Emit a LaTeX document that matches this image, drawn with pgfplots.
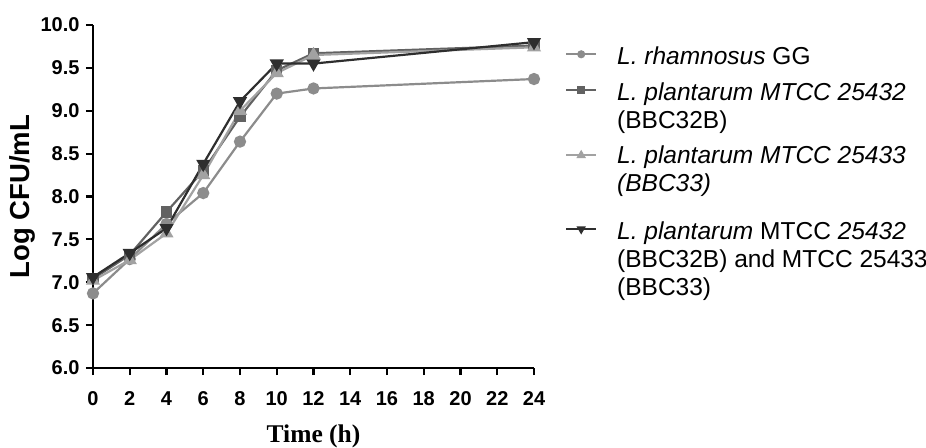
\documentclass[border=0pt]{standalone}
\usepackage{pgfplots}
\pgfplotsset{compat=1.18}
\usepackage{fontspec}
\setmainfont{Liberation Sans}
\newfontfamily\serifbf{Liberation Serif}
\definecolor{cA}{HTML}{8C8C8C}
\definecolor{cB}{HTML}{626262}
\definecolor{cC}{HTML}{A2A2A2}
\definecolor{cD}{HTML}{2E2E2E}
\begin{document}
\begin{tikzpicture}
\path[use as bounding box] (-93pt,-79pt) rectangle (833pt,368pt);
\begin{axis}[
  scale only axis,
  width=441pt, height=343pt,
  xmin=0, xmax=24, ymin=6, ymax=10,
  axis lines=left,
  axis line style={line width=2.6pt, -},
  xtick={0,2,...,24},
  ytick={6,6.5,...,10},
  tick style={line width=2.2pt, black},
  tick align=outside,
  major tick length=7pt,
  /pgf/number format/assume math mode=true,
  yticklabel style={xshift=-3pt, /pgf/number format/.cd, fixed, fixed zerofill, precision=1},
  ticklabel style={font=\bfseries\fontsize{20}{20}\selectfont},
  xticklabel style={yshift=-13pt},
  xlabel={\serifbf\bfseries Time (h)},
  ylabel={\bfseries Log CFU/mL},
  xlabel style={font=\fontsize{25.5}{25.5}\selectfont, yshift=-12pt},
  ylabel style={font=\fontsize{27.5}{27.5}\selectfont, yshift=-2pt},
  clip=false,
  legend style={draw=none, at={(1.0703,0.9363)}, anchor=north west,
    inner sep=0pt,
    font=\fontsize{24.5}{28}\selectfont,
    nodes={inner sep=0pt},
    cells={align=left, anchor=west},
    column sep=20pt,
    row sep=16pt},
  legend cell align=left,
  legend image code/.code={\draw[mark repeat=2,mark phase=2] plot coordinates {(0pt,0pt) (15pt,0pt) (30pt,0pt)};},
  every axis plot/.append style={line width=2.2pt},
]
\addplot[cA, mark=*, mark size=5pt, forget plot] coordinates {(0,6.87) (2,7.27) (4,7.68) (6,8.04) (8,8.64) (10,9.20) (12,9.26) (24,9.37)};
\addplot[cB, mark=square*, mark size=4.5pt, forget plot] coordinates {(0,7.04) (2,7.32) (4,7.82) (6,8.30) (8,8.93) (10,9.47) (12,9.67) (24,9.76)};
\addplot[cC, mark=triangle*, mark size=6pt, forget plot] coordinates {(0,7.02) (2,7.26) (4,7.57) (6,8.25) (8,9.00) (10,9.44) (12,9.65) (24,9.74)};
\addplot[cD, mark=triangle*, mark options={rotate=180}, mark size=6pt, forget plot] coordinates {(0,7.06) (2,7.34) (4,7.63) (6,8.38) (8,9.11) (10,9.55) (12,9.55) (24,9.80)};
\addlegendimage{cA, mark=*, mark size=3pt, line width=2pt, yshift=2.4pt}
\addlegendentry{\itshape L. rhamnosus\upshape\ GG}
\addlegendimage{cB, mark=square*, mark size=3pt, line width=2pt, yshift=16.4pt}
\addlegendentry{\itshape L. plantarum MTCC 25432\\(BBC32B)}
\addlegendimage{cC, mark=triangle*, mark size=3.5pt, line width=2pt, yshift=20.4pt}
\addlegendentry{\itshape L. plantarum MTCC 25433\\\itshape (BBC33)\\[-15pt]\mbox{}}
\addlegendimage{cD, mark=triangle*, mark options={rotate=180}, mark size=3.5pt, line width=2pt, yshift=30.4pt}
\addlegendentry{\itshape L. plantarum\upshape\ MTCC \itshape 25432\\(BBC32B) and MTCC 25433\\(BBC33)}
\end{axis}
\end{tikzpicture}
\end{document}
